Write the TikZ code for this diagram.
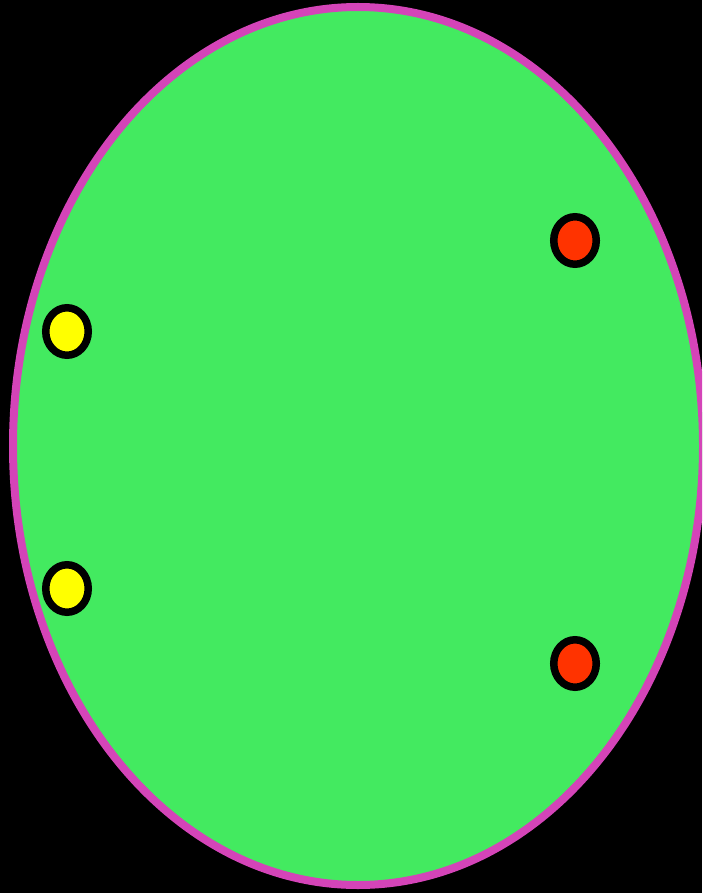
\documentclass[tikz,border=0pt]{standalone}
\usepackage{tikz}
\usetikzlibrary{shapes.geometric}
\definecolor{bodygreen}{RGB}{67,234,96}
\definecolor{rimmagenta}{RGB}{212,68,184}
\definecolor{dotyellow}{RGB}{255,255,0}
\definecolor{dotred}{RGB}{255,51,0}
\tikzset{
  dot/.style={ellipse, draw=black, line width=7.5pt, minimum width=42.5pt, minimum height=47.5pt, inner sep=0pt},
  yellowdot/.style={dot, fill=dotyellow},
  reddot/.style={dot, fill=dotred}
}
\begin{document}
\begin{tikzpicture}[x=1pt,y=-1pt]
  \useasboundingbox (0,0) rectangle (702,893);
  \clip (0,0) rectangle (702,893);
  \fill[black] (0,0) rectangle (702,893);
  \draw[fill=bodygreen, draw=rimmagenta, line width=8pt] (358,446) ellipse [x radius=345, y radius=439];
  \node[yellowdot] (y1) at (67,331.5) {};
  \node[yellowdot] (y2) at (67,588.5) {};
  \node[reddot] (r1) at (575,240.5) {};
  \node[reddot] (r2) at (575,663.5) {};
\end{tikzpicture}
\end{document}
